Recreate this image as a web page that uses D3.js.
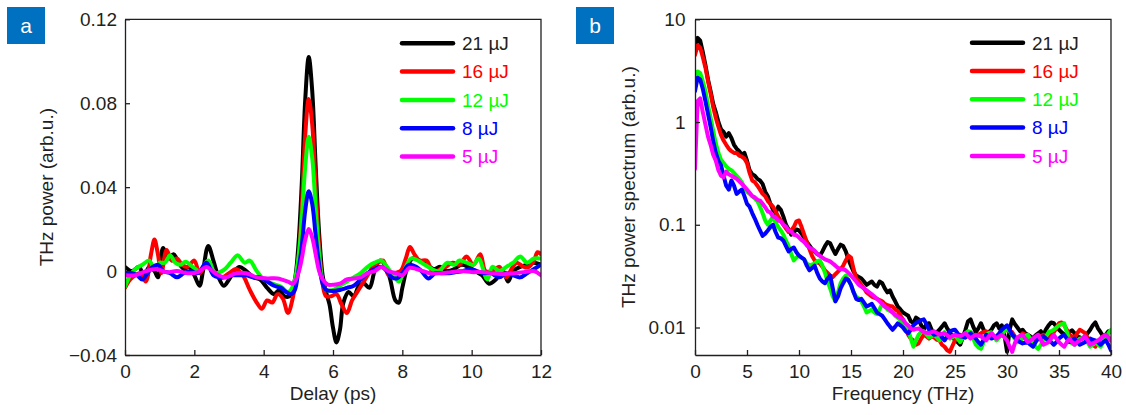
<!DOCTYPE html>
<html>
<head>
<meta charset="utf-8">
<script src="https://cdn.jsdelivr.net/npm/d3@7"></script>
<style>
  html, body { margin: 0; padding: 0; background: #fff; }
  svg { display: block; font-family: "Liberation Sans", Arial, sans-serif; }
</style>
</head>
<body>
<svg id="chart" width="1126" height="415"></svg>
<script>
// ---- series labels and colours ----
const seriesLabels = ["21 µJ", "16 µJ", "12 µJ", "8 µJ", "5 µJ"];
const seriesColors = ["#000000", "#ff0000", "#00ff00", "#0000ff", "#ff00ff"];
const legendTextColors = ["#231f20", "#ff0000", "#00ff00", "#0000ff", "#ff00ff"];

// ---- panel a: THz power vs delay, [delay (ps), power (arb.u.)] ----
const wave21 = [[0,0.002],[0.2,0.0],[0.4,0.002],[0.55,-0.002],[0.7,0.002],[0.85,0.0],[0.95,-0.003],[1.1,0.011],[1.25,0.006],[1.4,0.008],[1.55,0.004],[1.7,0.001],[1.85,0.002],[2.0,-0.002],[2.15,-0.007],[2.25,0.0],[2.4,0.012],[2.55,0.005],[2.7,-0.003],[2.85,-0.007],[3.0,-0.004],[3.15,0.0],[3.3,0.002],[3.5,0.0],[3.7,-0.003],[3.9,-0.004],[4.1,-0.008],[4.3,-0.011],[4.45,-0.009],[4.6,-0.012],[4.75,-0.012],[4.9,-0.004],[5.0,0.012],[5.1,0.042],[5.2,0.082],[5.3,0.102],[5.4,0.086],[5.5,0.05],[5.6,0.018],[5.7,-0.002],[5.8,-0.01],[5.9,-0.016],[6.0,-0.027],[6.1,-0.034],[6.2,-0.028],[6.3,-0.015],[6.45,-0.01],[6.6,-0.012],[6.75,-0.007],[6.9,-0.006],[7.05,-0.008],[7.2,0.0],[7.35,0.005],[7.5,0.003],[7.65,-0.004],[7.8,-0.014],[7.9,-0.015],[8.0,-0.008],[8.15,0.002],[8.3,0.006],[8.5,0.005],[8.7,0.003],[8.9,0.001],[9.1,0.002],[9.3,0.0],[9.5,0.001],[9.7,0.003],[9.9,0.002],[10.1,0.0],[10.3,-0.002],[10.5,-0.006],[10.7,-0.004],[10.9,0.0],[11.05,-0.005],[11.2,0.0],[11.4,0.002],[11.6,0.003],[11.8,0.004],[12,0.003]];
const wave16 = [[0,-0.008],[0.15,-0.004],[0.3,-0.002],[0.45,-0.001],[0.6,-0.005],[0.75,0.008],[0.85,0.015],[0.95,0.008],[1.05,-0.001],[1.2,0.010],[1.35,0.005],[1.5,0.006],[1.65,0.003],[1.8,0.002],[2.0,0.005],[2.15,-0.001],[2.35,0.003],[2.55,0.0],[2.8,-0.003],[3.0,-0.001],[3.2,0.001],[3.4,-0.002],[3.6,-0.009],[3.8,-0.015],[3.95,-0.018],[4.1,-0.014],[4.25,-0.015],[4.4,-0.011],[4.55,-0.013],[4.7,-0.020],[4.85,-0.012],[5.0,0.005],[5.1,0.03],[5.2,0.065],[5.3,0.082],[5.4,0.07],[5.5,0.04],[5.6,0.012],[5.7,-0.006],[5.8,-0.012],[5.95,-0.012],[6.1,-0.011],[6.25,-0.016],[6.4,-0.020],[6.55,-0.014],[6.7,-0.01],[6.85,-0.006],[7.0,-0.002],[7.15,0.002],[7.3,0.004],[7.45,0.005],[7.6,-0.002],[7.75,-0.001],[7.95,0.0],[8.1,0.006],[8.22,0.0115],[8.35,0.008],[8.5,0.005],[8.7,0.005],[8.9,-0.001],[9.1,0.001],[9.25,0.002],[9.45,0.004],[9.65,0.003],[9.85,0.007],[10.05,0.003],[10.25,0.008],[10.4,0.0],[10.6,0.0],[10.8,0.002],[11.0,-0.003],[11.15,0.001],[11.3,0.004],[11.5,0.002],[11.65,0.002],[11.8,0.005],[11.9,0.009],[12,0.008]];
const wave12 = [[0,-0.0075],[0.15,-0.002],[0.3,0.001],[0.5,0.003],[0.7,0.005],[0.85,0.001],[1.0,0.004],[1.15,0.004],[1.3,0.0075],[1.45,0.004],[1.6,0.003],[1.75,0.0045],[1.95,0.002],[2.15,0.0],[2.4,0.005],[2.6,-0.001],[2.85,0.0005],[3.05,0.004],[3.25,0.0075],[3.45,0.004],[3.6,0.005],[3.8,0.0],[4.0,-0.004],[4.25,-0.006],[4.5,-0.0075],[4.7,-0.010],[4.85,-0.007],[5.0,0.006],[5.1,0.025],[5.2,0.05],[5.3,0.064],[5.4,0.054],[5.5,0.03],[5.6,0.008],[5.7,-0.005],[5.8,-0.009],[6.0,-0.009],[6.2,-0.007],[6.4,-0.005],[6.6,-0.003],[6.8,-0.001],[7.0,0.002],[7.2,0.004],[7.4,0.005],[7.6,0.001],[7.75,-0.002],[7.9,-0.005],[8.05,0.0],[8.25,0.006],[8.45,0.005],[8.65,0.003],[8.85,0.001],[9.05,0.0],[9.3,0.004],[9.5,0.003],[9.65,0.005],[9.85,0.004],[10.05,0.003],[10.2,0.006],[10.45,-0.004],[10.6,0.002],[10.8,0.0],[11.0,0.002],[11.2,0.004],[11.4,0.007],[11.6,0.004],[11.8,0.006],[12,0.006]];
const wave8 = [[0,-0.001],[0.2,-0.001],[0.35,-0.002],[0.5,-0.004],[0.65,-0.001],[0.8,0.002],[0.95,0.003],[1.1,0.0],[1.3,-0.001],[1.5,-0.003],[1.7,-0.001],[1.9,0.0],[2.1,-0.001],[2.35,0.004],[2.55,-0.002],[2.7,-0.003],[2.9,-0.003],[3.1,-0.002],[3.3,-0.002],[3.5,-0.002],[3.7,-0.003],[3.9,-0.003],[4.1,-0.005],[4.3,-0.007],[4.5,-0.008],[4.65,-0.01],[4.8,-0.011],[4.9,-0.009],[5.0,0.0],[5.1,0.012],[5.2,0.029],[5.3,0.038],[5.4,0.032],[5.5,0.017],[5.6,0.003],[5.7,-0.006],[5.8,-0.009],[6.0,-0.0095],[6.2,-0.009],[6.4,-0.008],[6.6,-0.007],[6.8,-0.004],[7.0,-0.001],[7.2,0.001],[7.4,0.002],[7.55,0.0],[7.7,-0.003],[7.85,-0.0035],[8.0,-0.001],[8.2,0.003],[8.4,0.002],[8.55,0.0],[8.75,-0.0035],[8.95,-0.001],[9.15,-0.001],[9.35,-0.001],[9.55,-0.0005],[9.75,0.0],[9.95,0.001],[10.15,0.0],[10.35,-0.001],[10.55,-0.001],[10.8,-0.003],[11.0,-0.001],[11.2,-0.002],[11.4,-0.003],[11.6,-0.001],[11.8,0.001],[12,0.003]];
const wave5 = [[0,-0.002],[0.3,-0.002],[0.6,0.0],[0.9,0.001],[1.2,-0.0005],[1.5,0.0],[1.8,-0.001],[2.1,-0.0005],[2.35,0.002],[2.6,-0.001],[2.9,-0.003],[3.2,-0.001],[3.5,-0.001],[3.8,-0.003],[4.1,-0.0035],[4.4,-0.0035],[4.7,-0.005],[4.85,-0.006],[5.0,-0.001],[5.1,0.006],[5.2,0.015],[5.3,0.020],[5.4,0.016],[5.5,0.008],[5.6,0.0],[5.7,-0.004],[5.85,-0.0065],[6.0,-0.0065],[6.2,-0.006],[6.4,-0.004],[6.6,-0.0035],[6.8,-0.003],[7.0,-0.001],[7.2,0.0],[7.4,0.002],[7.6,0.0],[7.8,-0.001],[8.0,-0.002],[8.2,0.0015],[8.4,0.001],[8.6,0.0],[8.8,-0.001],[9.1,-0.001],[9.4,-0.0005],[9.7,0.0],[10.0,-0.0005],[10.3,-0.0005],[10.6,-0.001],[10.9,-0.0015],[11.2,-0.001],[11.5,-0.0005],[11.8,0.0],[12,-0.002]];

// ---- panel b: THz power spectrum, sampled every 0.25 THz from 0 to 40 THz (20 values per row = 5 THz) ----
const frequencies = d3.range(0, 40.001, 0.25);
const spec21 = [
  5.0,6.6,6.2,4.8,3.6,2.6,2.0,1.5,1.25,1.0,0.85,0.8,0.72,0.78,0.7,0.6,0.55,0.52,0.48,0.5,
  0.42,0.34,0.31,0.3,0.28,0.27,0.25,0.21,0.19,0.16,0.14,0.13,0.15,0.14,0.12,0.1,0.09,0.08,0.085,0.09,
  0.088,0.082,0.075,0.068,0.063,0.058,0.055,0.052,0.05,0.055,0.062,0.068,0.066,0.058,0.052,0.058,0.064,0.062,0.055,0.046,
  0.04,0.035,0.032,0.031,0.03,0.028,0.026,0.027,0.028,0.026,0.025,0.028,0.027,0.024,0.022,0.023,0.02,0.018,0.016,0.015,
  0.014,0.0135,0.013,0.0115,0.011,0.0125,0.012,0.0105,0.0095,0.0108,0.011,0.0095,0.0085,0.009,0.0095,0.0102,0.011,0.0098,0.009,0.0082,
  0.0075,0.0072,0.0068,0.008,0.0095,0.0115,0.012,0.0102,0.009,0.0098,0.011,0.0095,0.0085,0.009,0.0095,0.0105,0.011,0.0098,0.0105,0.0085,
  0.0058,0.0095,0.012,0.0108,0.01,0.0092,0.0095,0.0088,0.0085,0.0082,0.0078,0.0084,0.0088,0.0092,0.0085,0.0096,0.0105,0.0112,0.011,0.0102,
  0.0095,0.009,0.0085,0.0088,0.009,0.0094,0.0088,0.0082,0.008,0.0078,0.0082,0.0088,0.0095,0.0105,0.0112,0.0098,0.009,0.0082,0.0085,0.0092,
  0.009];
const spec16 = [
  4.5,5.6,5.3,4.3,3.4,2.5,1.9,1.4,1.1,0.9,0.75,0.66,0.6,0.55,0.52,0.5,0.5,0.47,0.46,0.44,
  0.4,0.32,0.27,0.26,0.24,0.22,0.2,0.19,0.17,0.16,0.15,0.135,0.12,0.11,0.1,0.092,0.085,0.088,0.095,0.108,
  0.11,0.095,0.08,0.068,0.058,0.05,0.045,0.043,0.042,0.039,0.036,0.034,0.032,0.031,0.033,0.035,0.037,0.04,0.045,0.05,
  0.048,0.037,0.03,0.028,0.026,0.024,0.022,0.021,0.02,0.0195,0.019,0.0185,0.018,0.017,0.0165,0.0162,0.016,0.015,0.0145,0.013,
  0.012,0.0098,0.0085,0.0078,0.0075,0.0068,0.007,0.0078,0.0085,0.0082,0.0078,0.0082,0.008,0.0076,0.0075,0.0068,0.0065,0.006,0.0058,0.0066,
  0.0075,0.008,0.0085,0.0082,0.008,0.0086,0.009,0.0085,0.0082,0.0085,0.0088,0.009,0.0092,0.0088,0.0085,0.0082,0.008,0.0085,0.0088,0.0092,
  0.0095,0.0092,0.009,0.0082,0.0075,0.0082,0.0088,0.0085,0.0082,0.0078,0.0075,0.0076,0.0078,0.0082,0.0085,0.008,0.0078,0.0084,0.009,0.0098,
  0.011,0.0112,0.0105,0.0095,0.0085,0.0082,0.008,0.0088,0.0095,0.0092,0.0088,0.008,0.0072,0.0068,0.0065,0.0072,0.0078,0.0082,0.0085,0.008,
  0.0075];
const spec12 = [
  2.4,3.1,3.0,2.5,2.0,1.45,1.1,0.82,0.62,0.5,0.43,0.4,0.37,0.35,0.34,0.32,0.3,0.28,0.26,0.23,
  0.21,0.2,0.19,0.18,0.17,0.15,0.13,0.11,0.1,0.11,0.12,0.105,0.095,0.088,0.08,0.07,0.062,0.052,0.045,0.048,
  0.05,0.048,0.046,0.042,0.04,0.041,0.042,0.044,0.045,0.04,0.034,0.028,0.024,0.02,0.018,0.022,0.027,0.03,0.032,0.029,
  0.026,0.022,0.02,0.019,0.018,0.016,0.014,0.0145,0.015,0.014,0.0135,0.015,0.017,0.016,0.015,0.0145,0.014,0.013,0.0125,0.0118,
  0.011,0.0102,0.0095,0.0078,0.0065,0.0075,0.0085,0.009,0.0092,0.0086,0.008,0.0082,0.0085,0.008,0.0075,0.0082,0.009,0.0084,0.0078,0.008,
  0.0085,0.0078,0.0072,0.008,0.0088,0.0092,0.009,0.0078,0.0068,0.0064,0.0062,0.0072,0.0085,0.0088,0.009,0.0082,0.0075,0.008,0.0085,0.0092,
  0.0098,0.0092,0.0085,0.0078,0.0072,0.0075,0.0078,0.0082,0.0085,0.0078,0.007,0.0065,0.0062,0.0068,0.0075,0.0082,0.009,0.0092,0.0095,0.01,
  0.0105,0.0108,0.011,0.009,0.0075,0.007,0.0068,0.0072,0.0078,0.0079,0.008,0.0072,0.0065,0.0068,0.0072,0.0068,0.0065,0.0072,0.0078,0.0088,
  0.0095];
const spec8 = [
  2.0,2.7,2.6,2.1,1.6,1.2,0.9,0.65,0.5,0.42,0.38,0.3,0.24,0.22,0.27,0.24,0.2,0.21,0.22,0.19,
  0.16,0.15,0.13,0.115,0.1,0.088,0.078,0.082,0.088,0.095,0.1,0.085,0.075,0.074,0.07,0.062,0.055,0.058,0.06,0.054,
  0.05,0.048,0.046,0.04,0.036,0.038,0.04,0.034,0.03,0.028,0.027,0.03,0.032,0.024,0.018,0.02,0.024,0.027,0.03,0.029,
  0.026,0.022,0.019,0.0185,0.019,0.0175,0.016,0.0165,0.017,0.0155,0.014,0.0135,0.013,0.012,0.011,0.0102,0.0095,0.0102,0.011,0.0105,
  0.01,0.0092,0.0088,0.0095,0.0105,0.011,0.0115,0.0118,0.012,0.0108,0.0095,0.009,0.0085,0.0086,0.0088,0.008,0.0075,0.0082,0.0092,0.0094,
  0.0095,0.0088,0.0082,0.0081,0.008,0.0084,0.0088,0.0082,0.0078,0.0072,0.0068,0.0076,0.0085,0.0082,0.0078,0.008,0.0082,0.0088,0.0095,0.01,
  0.0105,0.0095,0.0085,0.008,0.0075,0.0072,0.007,0.0071,0.0072,0.0068,0.0065,0.0072,0.0078,0.008,0.0082,0.0078,0.0075,0.0072,0.0068,0.0072,
  0.0078,0.0082,0.0085,0.0078,0.0072,0.0075,0.0078,0.0072,0.0068,0.007,0.0072,0.0075,0.0078,0.0076,0.0075,0.0072,0.0068,0.0072,0.0075,0.0068,
  0.006];
const spec5 = [
  0.35,1.6,1.7,1.25,0.95,0.72,0.6,0.48,0.42,0.34,0.3,0.29,0.33,0.31,0.3,0.29,0.28,0.265,0.25,0.235,
  0.22,0.205,0.19,0.185,0.175,0.172,0.16,0.148,0.135,0.132,0.12,0.118,0.11,0.108,0.1,0.096,0.088,0.086,0.08,0.079,
  0.075,0.071,0.068,0.063,0.06,0.058,0.056,0.052,0.05,0.048,0.046,0.045,0.044,0.042,0.04,0.038,0.037,0.037,0.036,0.034,
  0.032,0.03,0.028,0.026,0.025,0.024,0.023,0.022,0.021,0.02,0.019,0.018,0.017,0.016,0.0155,0.0148,0.014,0.0133,0.0128,0.0124,
  0.012,0.011,0.0105,0.0098,0.0095,0.0097,0.0098,0.0094,0.009,0.0089,0.0088,0.009,0.0092,0.0088,0.0085,0.0087,0.0088,0.0084,0.008,0.0083,
  0.0085,0.0083,0.0082,0.0085,0.0088,0.0083,0.0078,0.0082,0.0085,0.0083,0.0082,0.0078,0.0075,0.0082,0.0088,0.0083,0.0078,0.0082,0.0085,0.008,
  0.0075,0.0065,0.0058,0.007,0.008,0.0083,0.0085,0.0078,0.0072,0.0075,0.0078,0.0082,0.0085,0.0076,0.0068,0.007,0.0072,0.0078,0.0085,0.0078,
  0.0072,0.0068,0.0065,0.0072,0.0078,0.0072,0.0068,0.0072,0.0075,0.0078,0.0082,0.0075,0.0068,0.007,0.0072,0.0075,0.0078,0.0082,0.0085,0.008,
  0.0075];

// ---- axis ticks ----
const delayTicks = [0, 2, 4, 6, 8, 10, 12];
const powerTicks = [-0.04, 0, 0.04, 0.08, 0.12];
const powerTickLabels = ["\u22120.04", "0", "0.04", "0.08", "0.12"];
const freqTicks = [0, 5, 10, 15, 20, 25, 30, 35, 40];
const spectrumTicks = [0.01, 0.1, 1, 10];
const spectrumTickLabels = ["0.01", "0.1", "1", "10"];

const svg = d3.select("#chart");
const ink = "#231f20";
const fontSize = 19;

function drawPanel(opts) {
  const g = svg.append("g");
  const { x, y } = opts;
  const [x0, x1] = x.range();
  const [yb, yt] = y.range();

  const clipId = "clip-" + opts.id;
  svg.append("clipPath").attr("id", clipId)
    .append("rect").attr("x", x0).attr("y", yt).attr("width", x1 - x0).attr("height", yb - yt);

  // data lines
  const lines = g.append("g").attr("clip-path", `url(#${clipId})`);
  opts.series.forEach((s, i) => {
    lines.append("path")
      .datum(s)
      .attr("fill", "none")
      .attr("stroke", seriesColors[i])
      .attr("stroke-width", opts.lineWidth)
      .attr("stroke-linejoin", "round")
      .attr("stroke-linecap", "round")
      .attr("d", opts.line);
  });

  // frame (top and right)
  g.append("path")
    .attr("d", `M${x0},${yt}H${x1}V${yb}`)
    .attr("fill", "none").attr("stroke", ink).attr("stroke-width", 1.3);

  // bottom axis
  const xAxis = d3.axisBottom(x).tickValues(opts.xTicks).tickFormat(d3.format("d"))
    .tickSizeInner(-5).tickSizeOuter(0).tickPadding(10);
  const gx = g.append("g").attr("transform", `translate(0,${yb})`).call(xAxis);

  // left axis
  const yAxis = d3.axisLeft(y).tickValues(opts.yTicks)
    .tickFormat((d, i) => opts.yLabels[i])
    .tickSizeInner(-5).tickSizeOuter(0).tickPadding(opts.yPad);
  const gy = g.append("g").attr("transform", `translate(${x0},0)`).call(yAxis);

  [gx, gy].forEach(a => {
    a.select(".domain").attr("stroke", ink).attr("stroke-width", 1.3);
    a.selectAll(".tick line").attr("stroke", ink).attr("stroke-width", 1.3);
    a.selectAll(".tick text").attr("fill", ink)
      .style("font-size", fontSize + "px")
      .style("font-family", '"Liberation Sans", Arial, sans-serif');
  });

  // axis titles
  g.append("text")
    .attr("x", (x0 + x1) / 2).attr("y", 400)
    .attr("text-anchor", "middle").attr("fill", ink)
    .style("font-size", fontSize + "px")
    .text(opts.xTitle);
  g.append("text")
    .attr("transform", `translate(${opts.yTitleX},${(yt + yb) / 2}) rotate(-90)`)
    .attr("text-anchor", "middle").attr("fill", ink)
    .style("font-size", fontSize + "px")
    .text(opts.yTitle);

  // legend
  const lg = g.append("g");
  seriesLabels.forEach((lab, i) => {
    const ly = opts.legendY + i * 28.3;
    lg.append("line")
      .attr("x1", opts.legendX).attr("x2", opts.legendX + 51)
      .attr("y1", ly).attr("y2", ly)
      .attr("stroke", seriesColors[i]).attr("stroke-width", 4.5)
      .attr("stroke-linecap", "round");
    lg.append("text")
      .attr("x", opts.legendX + 60).attr("y", ly + 6.8)
      .attr("fill", legendTextColors[i])
      .style("font-size", fontSize + "px")
      .text(lab);
  });

  // panel tag
  svg.append("rect").attr("x", opts.tagX).attr("y", 7).attr("width", 38).attr("height", 37)
    .attr("fill", "#0070c0");
  svg.append("text").attr("x", opts.tagX + 19).attr("y", 32.5)
    .attr("text-anchor", "middle").attr("fill", "#ffffff")
    .style("font-size", "21px")
    .text(opts.tag);
}

// panel a
const xa = d3.scaleLinear().domain([0, 12]).range([125, 541]);
const ya = d3.scaleLinear().domain([-0.04, 0.12]).range([355, 19.3]);
drawPanel({
  id: "a", tag: "a", tagX: 7,
  x: xa, y: ya,
  series: [wave21, wave16, wave12, wave8, wave5],
  line: d3.line().x(d => xa(d[0])).y(d => ya(d[1])).curve(d3.curveCatmullRom.alpha(0.5)),
  lineWidth: 4,
  xTicks: delayTicks, yTicks: powerTicks, yLabels: powerTickLabels, yPad: 8,
  xTitle: "Delay (ps)", yTitle: "THz power (arb.u.)", yTitleX: 53,
  legendX: 402, legendY: 43.3
});

// panel b
const xb = d3.scaleLinear().domain([0, 40]).range([695, 1111]);
const yb = d3.scaleLog().domain([0.0054, 10]).range([355, 19.3]);
const specSeries = [spec21, spec16, spec12, spec8, spec5]
  .map(vals => vals.slice(0, frequencies.length).map((v, i) => [frequencies[i], v]));
drawPanel({
  id: "b", tag: "b", tagX: 576,
  x: xb, y: yb,
  series: specSeries,
  line: d3.line().x(d => xb(d[0])).y(d => yb(d[1])),
  lineWidth: 4,
  xTicks: freqTicks, yTicks: spectrumTicks, yLabels: spectrumTickLabels, yPad: 9.5,
  xTitle: "Frequency (THz)", yTitle: "THz power spectrum (arb.u.)", yTitleX: 634.5,
  legendX: 972, legendY: 42.7
});
</script>
</body>
</html>
